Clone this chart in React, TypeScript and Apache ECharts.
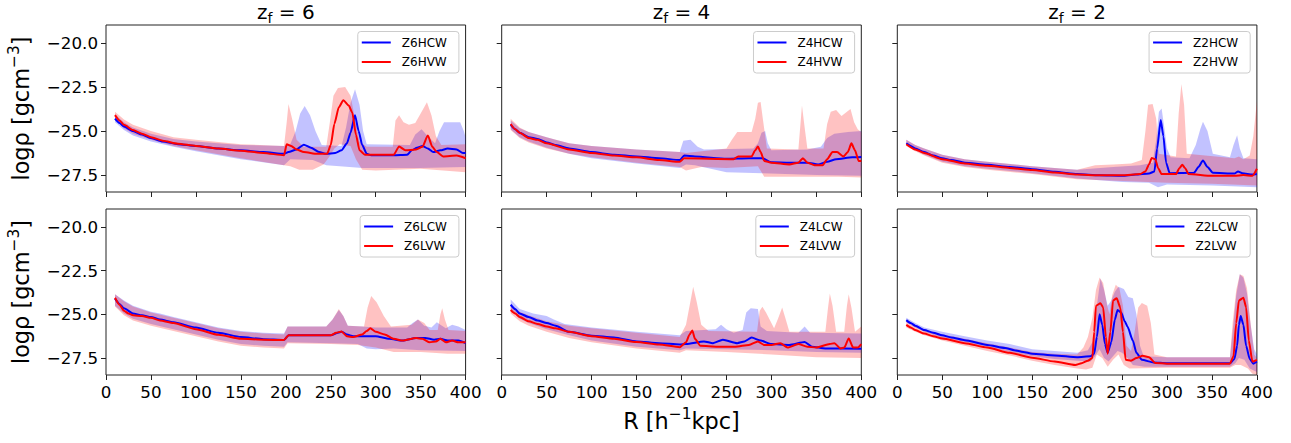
import React, { useEffect, useRef } from 'react';
import * as echarts from 'echarts';

// ---------------- data ----------------
const R_TICKS = [0, 50, 100, 150, 200, 250, 300, 350, 400];
const Y_TICKS = [-27.5, -25, -22.5, -20];
const Z_VALUES = ['6', '4', '2'];

// z_f = 6, H
const z6hcwMean = [[10,-24.3],[15,-24.55],[20,-24.75],[30,-25.0],[40,-25.2],[50,-25.4],[63,-25.6],[80,-25.75],[100,-25.85],[125,-26.0],[150,-26.1],[175,-26.2],[198,-26.3],[203,-26.2],[212,-26.05],[220,-25.78],[228,-25.95],[237,-26.2],[245,-26.3],[255,-26.25],[262,-26.1],[268,-25.7],[272,-25.1],[277,-24.1],[281,-25.0],[285,-25.8],[290,-26.3],[295,-26.38],[320,-26.38],[335,-26.35],[340,-26.1],[346,-25.95],[352,-25.85],[358,-26.0],[364,-26.2],[372,-26.1],[380,-26.0],[390,-26.05],[397,-26.25],[400,-26.25]];
const z6hcwUpper = [[10,-24.05],[20,-24.5],[30,-24.8],[50,-25.15],[75,-25.45],[100,-25.6],[150,-25.8],[198,-25.85],[205,-25.75],[211,-25.0],[216,-24.0],[221,-23.58],[227,-24.1],[233,-25.0],[240,-25.8],[262,-25.85],[267,-24.8],[272,-23.4],[277,-22.63],[282,-23.5],[286,-25.0],[290,-25.75],[338,-25.8],[344,-25.2],[351,-24.9],[358,-25.3],[366,-25.7],[371,-25.0],[376,-24.5],[394,-24.5],[398,-25.0],[400,-25.35]];
const z6hcwLower = [[10,-24.5],[20,-24.95],[30,-25.25],[50,-25.6],[75,-25.9],[100,-26.15],[150,-26.6],[198,-26.95],[205,-26.6],[230,-26.65],[245,-26.95],[260,-27.0],[285,-27.1],[300,-27.1],[350,-27.1],[400,-27.05]];
const z6hvwMean = [[10,-24.1],[15,-24.4],[20,-24.65],[30,-24.95],[40,-25.15],[50,-25.35],[63,-25.55],[80,-25.72],[100,-25.85],[125,-26.0],[150,-26.12],[175,-26.25],[198,-26.38],[201,-25.75],[206,-25.85],[212,-26.05],[220,-26.2],[235,-26.3],[246,-26.3],[250,-25.8],[254,-24.6],[259,-23.65],[264,-23.25],[270,-23.55],[274,-23.95],[278,-25.2],[282,-26.1],[288,-26.35],[320,-26.35],[326,-25.88],[333,-26.1],[345,-26.05],[352,-25.9],[358,-25.25],[363,-25.9],[368,-26.2],[375,-26.45],[390,-26.4],[400,-26.55]];
const z6hvwUpper = [[10,-23.9],[20,-24.35],[30,-24.65],[50,-25.0],[75,-25.35],[100,-25.5],[150,-25.75],[198,-25.85],[201,-24.5],[203,-23.47],[207,-24.3],[212,-25.5],[220,-25.9],[245,-25.9],[249,-24.5],[253,-23.0],[258,-22.55],[266,-22.5],[272,-23.0],[277,-24.3],[282,-25.6],[290,-25.9],[319,-25.9],[322,-24.4],[326,-24.1],[331,-24.5],[337,-24.65],[344,-24.55],[350,-24.0],[357,-23.37],[362,-24.1],[367,-25.3],[373,-25.8],[400,-25.75]];
const z6hvwLower = [[10,-24.35],[20,-24.85],[30,-25.15],[50,-25.5],[75,-25.85],[100,-26.1],[150,-26.55],[198,-26.95],[205,-27.0],[215,-27.2],[230,-27.2],[242,-26.9],[248,-26.5],[254,-26.0],[260,-25.75],[272,-25.85],[278,-26.6],[285,-27.2],[300,-27.25],[350,-27.15],[375,-27.25],[400,-27.35]];

// z_f = 6, L
const z6lcwMean = [[10,-24.1],[15,-24.4],[20,-24.65],[30,-24.95],[40,-25.05],[50,-25.15],[60,-25.3],[75,-25.45],[100,-25.75],[125,-26.05],[150,-26.3],[175,-26.42],[198,-26.47],[203,-26.2],[250,-26.2],[258,-26.05],[262,-26.0],[268,-26.15],[275,-26.25],[300,-26.25],[315,-26.4],[330,-26.5],[345,-26.35],[355,-26.35],[365,-26.45],[372,-26.4],[380,-26.5],[392,-26.5],[400,-26.65]];
const z6lcwUpper = [[10,-23.85],[20,-24.2],[30,-24.5],[50,-24.85],[60,-24.95],[75,-25.15],[100,-25.45],[125,-25.75],[150,-25.95],[175,-26.05],[198,-26.1],[202,-25.7],[245,-25.7],[252,-25.3],[259,-24.75],[264,-25.1],[269,-25.65],[285,-25.7],[300,-25.75],[335,-25.75],[341,-25.5],[347,-25.3],[354,-25.65],[362,-25.75],[368,-25.45],[372,-25.6],[378,-25.8],[385,-25.6],[392,-25.7],[400,-25.9]];
const z6lcwLower = [[10,-24.5],[20,-24.95],[30,-25.25],[50,-25.55],[75,-25.85],[100,-26.15],[125,-26.45],[150,-26.7],[175,-26.8],[198,-26.85],[202,-26.6],[250,-26.65],[280,-26.7],[290,-26.95],[300,-27.0],[320,-26.95],[350,-27.05],[400,-27.1]];
const z6lvwMean = [[10,-24.05],[15,-24.45],[20,-24.8],[25,-24.95],[30,-25.05],[40,-25.1],[50,-25.2],[60,-25.35],[75,-25.5],[100,-25.85],[125,-26.17],[150,-26.4],[175,-26.45],[198,-26.47],[203,-26.2],[250,-26.2],[256,-26.05],[262,-25.98],[268,-26.25],[275,-26.3],[285,-26.15],[290,-25.95],[294,-25.8],[300,-26.0],[310,-26.15],[320,-26.4],[330,-26.5],[345,-26.35],[352,-26.4],[360,-26.6],[367,-26.55],[372,-26.4],[378,-26.6],[385,-26.5],[392,-26.6],[400,-26.6]];
const z6lvwUpper = [[10,-23.85],[20,-24.25],[30,-24.55],[50,-24.9],[75,-25.2],[100,-25.5],[125,-25.8],[150,-26.0],[175,-26.1],[198,-26.15],[202,-25.7],[245,-25.7],[252,-25.3],[259,-24.7],[264,-25.1],[269,-25.65],[287,-25.7],[291,-24.6],[295,-23.95],[301,-24.3],[309,-25.1],[317,-25.7],[340,-25.6],[347,-25.3],[354,-25.5],[360,-25.9],[369,-25.9],[372,-25.0],[374,-24.65],[377,-25.3],[381,-25.9],[400,-25.95]];
const z6lvwLower = [[10,-24.55],[20,-25.05],[30,-25.35],[50,-25.65],[75,-25.95],[100,-26.25],[125,-26.55],[150,-26.8],[175,-26.9],[198,-26.95],[202,-26.65],[250,-26.7],[280,-26.75],[300,-26.9],[320,-27.15],[350,-27.15],[380,-27.25],[400,-27.25]];

// z_f = 4, H
const z4hcwMean = [[10,-24.65],[15,-24.9],[20,-25.1],[30,-25.35],[40,-25.45],[50,-25.65],[60,-25.8],[75,-26.0],[100,-26.2],[125,-26.35],[150,-26.45],[175,-26.55],[198,-26.65],[203,-26.4],[215,-26.45],[250,-26.58],[275,-26.55],[290,-26.55],[300,-26.78],[320,-26.8],[340,-26.8],[352,-26.9],[362,-26.75],[372,-26.6],[390,-26.5],[400,-26.48]];
const z4hcwUpper = [[10,-24.4],[20,-24.85],[30,-25.05],[50,-25.35],[60,-25.5],[75,-25.7],[100,-25.85],[150,-26.05],[198,-26.2],[202,-25.55],[210,-25.5],[218,-25.9],[225,-26.05],[280,-26.0],[285,-25.7],[289,-25.1],[293,-25.0],[296,-25.7],[300,-26.1],[340,-26.05],[355,-25.9],[362,-25.4],[370,-25.15],[385,-25.05],[400,-25.0]];
const z4hcwLower = [[10,-24.9],[20,-25.35],[30,-25.6],[50,-25.95],[75,-26.3],[100,-26.55],[150,-26.85],[198,-27.1],[205,-26.9],[215,-26.95],[250,-27.35],[290,-27.4],[350,-27.5],[400,-27.55]];
const z4hvwMean = [[10,-24.6],[15,-24.9],[20,-25.1],[30,-25.4],[40,-25.5],[50,-25.7],[75,-26.05],[100,-26.25],[125,-26.4],[150,-26.5],[175,-26.65],[198,-26.75],[203,-26.55],[258,-26.6],[263,-26.45],[278,-26.45],[282,-26.1],[285,-25.88],[288,-26.2],[292,-26.7],[300,-26.8],[320,-26.9],[330,-26.8],[335,-26.55],[340,-26.8],[348,-26.95],[357,-26.95],[362,-26.6],[368,-26.2],[373,-26.2],[380,-26.45],[385,-26.2],[389,-25.7],[393,-26.1],[397,-26.7],[400,-26.7]];
const z4hvwUpper = [[10,-24.3],[20,-24.8],[30,-25.05],[50,-25.35],[75,-25.7],[100,-25.85],[150,-26.05],[198,-26.2],[205,-26.25],[250,-26.0],[256,-25.5],[262,-25.05],[278,-25.05],[282,-24.3],[285,-23.4],[288,-23.35],[291,-24.5],[295,-26.0],[330,-26.05],[332,-24.8],[334,-23.55],[337,-24.8],[340,-26.0],[358,-26.0],[362,-24.6],[366,-23.9],[372,-23.8],[378,-24.15],[384,-23.9],[388,-23.75],[392,-24.5],[396,-24.9],[400,-25.05]];
const z4hvwLower = [[10,-24.95],[20,-25.4],[30,-25.65],[50,-26.0],[75,-26.3],[100,-26.5],[150,-26.8],[198,-27.05],[205,-27.25],[222,-27.05],[250,-27.1],[285,-27.0],[292,-27.6],[350,-27.6],[375,-27.6],[400,-27.65]];

// z_f = 4, L
const z4lcwMean = [[10,-24.45],[15,-24.7],[20,-24.95],[30,-25.15],[40,-25.35],[50,-25.5],[60,-25.65],[75,-26.0],[100,-26.22],[125,-26.32],[150,-26.55],[175,-26.65],[198,-26.72],[205,-26.7],[225,-26.55],[235,-26.65],[246,-26.45],[262,-26.65],[270,-26.55],[278,-26.33],[288,-26.5],[300,-26.7],[320,-26.75],[337,-26.58],[345,-26.85],[360,-26.95],[400,-26.97]];
const z4lcwUpper = [[10,-24.15],[20,-24.7],[35,-24.95],[50,-25.1],[58,-25.3],[70,-25.55],[100,-25.75],[150,-26.0],[198,-26.2],[205,-25.95],[238,-25.85],[244,-25.6],[250,-25.85],[258,-26.05],[268,-25.9],[272,-24.9],[277,-24.65],[285,-24.7],[288,-25.7],[295,-25.95],[330,-26.05],[337,-25.7],[343,-26.05],[400,-26.1]];
const z4lcwLower = [[10,-24.75],[20,-25.25],[30,-25.5],[50,-25.85],[75,-26.2],[100,-26.5],[150,-26.85],[198,-27.05],[205,-26.95],[250,-27.0],[300,-27.05],[350,-27.15],[400,-27.2]];
const z4lvwMean = [[10,-24.75],[15,-24.95],[20,-25.15],[30,-25.4],[40,-25.55],[50,-25.7],[60,-25.8],[75,-26.0],[100,-26.25],[125,-26.4],[150,-26.58],[175,-26.72],[198,-26.88],[205,-26.6],[209,-26.15],[212,-25.92],[215,-26.4],[221,-26.8],[240,-26.85],[260,-26.85],[275,-26.75],[285,-26.55],[292,-26.75],[300,-26.75],[310,-26.65],[318,-26.9],[330,-26.7],[340,-26.85],[350,-26.9],[365,-26.7],[370,-26.65],[377,-26.95],[381,-26.9],[386,-26.38],[391,-26.9],[396,-26.9],[400,-26.7]];
const z4lvwUpper = [[10,-24.45],[20,-24.85],[30,-25.05],[50,-25.4],[75,-25.65],[100,-25.8],[150,-26.05],[198,-26.3],[205,-25.6],[209,-24.5],[213,-23.42],[217,-24.3],[222,-25.6],[230,-25.95],[284,-26.0],[287,-24.8],[290,-24.56],[294,-24.9],[298,-25.3],[303,-25.8],[307,-25.3],[312,-24.6],[316,-25.3],[320,-26.0],[360,-26.0],[363,-24.6],[365,-23.8],[368,-24.5],[372,-26.0],[381,-26.0],[384,-24.5],[386,-23.85],[389,-24.6],[393,-26.0],[400,-25.7]];
const z4lvwLower = [[10,-24.95],[20,-25.4],[30,-25.65],[50,-26.0],[75,-26.35],[100,-26.6],[150,-26.95],[198,-27.2],[205,-27.05],[250,-27.15],[300,-27.3],[350,-27.45],[400,-27.5]];

// z_f = 2, H
const z2hcwMean = [[10,-25.7],[15,-25.85],[20,-26.0],[30,-26.2],[40,-26.4],[50,-26.55],[60,-26.65],[75,-26.8],[100,-26.92],[125,-27.05],[150,-27.17],[175,-27.32],[200,-27.45],[225,-27.52],[250,-27.55],[265,-27.48],[280,-27.42],[286,-27.3],[289,-26.0],[293,-24.38],[296,-25.3],[299,-26.8],[303,-27.4],[330,-27.38],[335,-27.05],[340,-26.68],[345,-27.05],[351,-27.38],[375,-27.42],[379,-27.3],[384,-27.4],[395,-27.48],[400,-27.45]];
const z2hcwUpper = [[10,-25.5],[20,-25.8],[30,-26.0],[50,-26.35],[75,-26.6],[100,-26.75],[150,-27.0],[200,-27.2],[240,-27.05],[270,-26.95],[284,-26.8],[288,-25.5],[291,-23.9],[294,-23.72],[297,-24.8],[300,-26.0],[304,-26.5],[325,-26.55],[332,-25.8],[337,-24.9],[340,-24.48],[345,-25.0],[351,-26.3],[370,-26.5],[374,-25.8],[378,-25.24],[381,-26.0],[385,-26.55],[400,-26.6]];
const z2hcwLower = [[10,-25.8],[20,-26.1],[30,-26.35],[50,-26.75],[75,-27.0],[100,-27.15],[150,-27.4],[200,-27.7],[250,-27.9],[280,-27.95],[290,-28.2],[300,-28.05],[350,-28.1],[400,-28.2]];
const z2hvwMean = [[10,-25.75],[20,-26.05],[30,-26.25],[50,-26.6],[75,-26.85],[100,-26.98],[125,-27.1],[150,-27.22],[175,-27.36],[200,-27.48],[225,-27.52],[250,-27.52],[270,-27.45],[276,-27.3],[280,-26.9],[283,-26.54],[287,-26.6],[290,-27.1],[294,-27.45],[310,-27.45],[314,-27.1],[317,-26.92],[320,-27.1],[324,-27.45],[350,-27.55],[375,-27.55],[385,-27.5],[395,-27.55],[400,-27.15]];
const z2hvwUpper = [[10,-25.5],[20,-25.8],[30,-26.0],[50,-26.35],[75,-26.6],[100,-26.75],[150,-27.0],[200,-27.2],[220,-26.95],[240,-26.9],[260,-26.85],[272,-26.65],[276,-25.0],[279,-23.5],[284,-23.47],[288,-24.3],[291,-26.3],[310,-26.45],[313,-24.0],[316,-22.33],[319,-23.5],[322,-26.3],[375,-26.55],[380,-26.45],[385,-26.6],[392,-26.4],[396,-25.3],[400,-23.3]];
const z2hvwLower = [[10,-25.85],[20,-26.15],[30,-26.4],[50,-26.8],[75,-27.05],[100,-27.2],[150,-27.45],[200,-27.75],[250,-27.85],[300,-27.95],[350,-28.0],[400,-28.1]];

// z_f = 2, L
const z2lcwMean = [[10,-25.33],[15,-25.5],[20,-25.65],[30,-25.9],[40,-26.05],[50,-26.2],[60,-26.32],[75,-26.48],[100,-26.75],[120,-26.92],[130,-27.05],[140,-27.15],[150,-27.25],[175,-27.35],[200,-27.45],[215,-27.4],[219,-27.25],[222,-26.3],[225,-25.0],[228,-25.6],[231,-26.7],[234,-27.2],[238,-26.6],[242,-25.3],[245,-24.75],[249,-24.9],[253,-25.4],[256,-25.7],[262,-26.5],[266,-27.2],[272,-27.6],[285,-27.75],[300,-27.8],[370,-27.8],[375,-27.55],[378,-26.8],[380,-25.6],[382,-25.1],[385,-25.6],[388,-26.8],[392,-27.55],[396,-27.82],[400,-27.7]];
const z2lcwUpper = [[10,-25.2],[20,-25.5],[30,-25.75],[50,-26.0],[75,-26.25],[100,-26.5],[125,-26.7],[150,-27.0],[175,-27.1],[200,-27.2],[212,-27.05],[218,-26.5],[222,-24.5],[226,-22.95],[230,-23.6],[234,-24.5],[238,-24.2],[242,-23.7],[246,-23.42],[252,-23.55],[257,-24.0],[262,-24.08],[266,-25.0],[270,-26.8],[274,-27.4],[300,-27.45],[370,-27.45],[373,-26.0],[377,-23.9],[381,-22.7],[385,-22.9],[389,-23.8],[393,-25.6],[397,-27.0],[400,-27.3]];
const z2lcwLower = [[10,-25.45],[20,-25.75],[30,-26.0],[50,-26.35],[75,-26.6],[100,-26.9],[125,-27.15],[150,-27.4],[175,-27.55],[200,-27.65],[215,-27.7],[220,-27.4],[225,-27.0],[230,-27.5],[235,-27.7],[240,-27.4],[245,-27.1],[250,-27.2],[256,-27.5],[262,-27.9],[275,-28.0],[370,-28.0],[376,-27.8],[380,-27.5],[386,-27.6],[392,-28.1],[400,-28.3]];
const z2lvwMean = [[10,-25.6],[15,-25.75],[20,-25.9],[30,-26.1],[40,-26.25],[50,-26.38],[75,-26.65],[100,-26.9],[125,-27.2],[150,-27.48],[175,-27.7],[198,-27.9],[205,-27.8],[212,-27.65],[217,-27.5],[219,-26.0],[221,-24.5],[226,-24.37],[229,-24.6],[232,-26.3],[234,-27.25],[237,-26.0],[240,-24.2],[244,-24.08],[248,-24.6],[251,-26.0],[254,-27.6],[260,-27.65],[266,-27.5],[273,-27.37],[280,-27.45],[287,-27.78],[300,-27.82],[370,-27.82],[374,-27.4],[377,-25.5],[380,-24.2],[385,-24.05],[388,-24.6],[391,-26.5],[395,-27.7],[400,-27.6]];
const z2lvwUpper = [[10,-25.35],[20,-25.65],[30,-25.85],[50,-26.15],[75,-26.4],[100,-26.65],[125,-26.9],[150,-27.15],[175,-27.25],[200,-27.3],[207,-26.9],[212,-26.3],[217,-25.2],[221,-23.6],[225,-22.89],[229,-23.2],[233,-24.4],[236,-25.0],[239,-23.9],[243,-23.3],[247,-23.5],[251,-24.5],[255,-26.8],[260,-27.1],[264,-26.0],[268,-24.6],[272,-24.35],[278,-24.5],[282,-25.5],[286,-27.3],[300,-27.45],[370,-27.45],[373,-25.5],[377,-23.6],[381,-22.7],[385,-22.8],[389,-23.5],[393,-25.5],[397,-27.3],[400,-27.5]];
const z2lvwLower = [[10,-25.75],[20,-26.0],[30,-26.2],[50,-26.5],[75,-26.8],[100,-27.1],[125,-27.35],[150,-27.65],[175,-27.9],[200,-28.1],[210,-28.15],[217,-28.05],[222,-27.3],[228,-27.5],[234,-28.0],[240,-27.6],[246,-27.3],[252,-27.9],[258,-28.1],[300,-28.05],[370,-28.05],[376,-27.9],[382,-27.9],[390,-28.1],[395,-28.4],[400,-28.45]];

// ---------------- layout / styles ----------------
const W = 1291;
const H = 443;
const FONT = 'DejaVu Sans';
const COL_LEFT = [106, 501.7, 897.3];
const PANEL_W = 359.6;
const ROW_TOP = [25, 209];
const ROW_H = [167, 166];
const Y_MIN = -28.47;
const Y_MAX = -18.97;
const BLUE = '#0000ff';
const RED = '#ff0000';
const BLUE_FILL = 'rgba(0,0,255,0.24)';
const RED_FILL = 'rgba(255,0,0,0.24)';
const TICK_FONT = 16.7;
const LABEL_FONT = 22.4;

type Pt = number[];
interface Curve { name: string; mean: Pt[]; upper: Pt[]; lower: Pt[]; color: string; fill: string; }
interface Panel { row: number; col: number; curves: Curve[]; }

const PANELS: Panel[] = [
  { row: 0, col: 0, curves: [
    { name: 'Z6HCW', mean: z6hcwMean, upper: z6hcwUpper, lower: z6hcwLower, color: BLUE, fill: BLUE_FILL },
    { name: 'Z6HVW', mean: z6hvwMean, upper: z6hvwUpper, lower: z6hvwLower, color: RED, fill: RED_FILL } ] },
  { row: 0, col: 1, curves: [
    { name: 'Z4HCW', mean: z4hcwMean, upper: z4hcwUpper, lower: z4hcwLower, color: BLUE, fill: BLUE_FILL },
    { name: 'Z4HVW', mean: z4hvwMean, upper: z4hvwUpper, lower: z4hvwLower, color: RED, fill: RED_FILL } ] },
  { row: 0, col: 2, curves: [
    { name: 'Z2HCW', mean: z2hcwMean, upper: z2hcwUpper, lower: z2hcwLower, color: BLUE, fill: BLUE_FILL },
    { name: 'Z2HVW', mean: z2hvwMean, upper: z2hvwUpper, lower: z2hvwLower, color: RED, fill: RED_FILL } ] },
  { row: 1, col: 0, curves: [
    { name: 'Z6LCW', mean: z6lcwMean, upper: z6lcwUpper, lower: z6lcwLower, color: BLUE, fill: BLUE_FILL },
    { name: 'Z6LVW', mean: z6lvwMean, upper: z6lvwUpper, lower: z6lvwLower, color: RED, fill: RED_FILL } ] },
  { row: 1, col: 1, curves: [
    { name: 'Z4LCW', mean: z4lcwMean, upper: z4lcwUpper, lower: z4lcwLower, color: BLUE, fill: BLUE_FILL },
    { name: 'Z4LVW', mean: z4lvwMean, upper: z4lvwUpper, lower: z4lvwLower, color: RED, fill: RED_FILL } ] },
  { row: 1, col: 2, curves: [
    { name: 'Z2LCW', mean: z2lcwMean, upper: z2lcwUpper, lower: z2lcwLower, color: BLUE, fill: BLUE_FILL },
    { name: 'Z2LVW', mean: z2lvwMean, upper: z2lvwUpper, lower: z2lvwLower, color: RED, fill: RED_FILL } ] },
];

const fmtY = (v: number) => (v < 0 ? '\u2212' : '') + Math.abs(v).toFixed(1);

const labelRich = {
  m: { fontSize: LABEL_FONT, fontFamily: FONT, fill: '#000', lineHeight: 30 },
  p: { fontSize: 15.5, fontFamily: FONT, fill: '#000', lineHeight: 18, verticalAlign: 'top' },
};

function buildOption() {
  const grid: any[] = [];
  const xAxis: any[] = [];
  const yAxis: any[] = [];
  const series: any[] = [];
  const legend: any[] = [];
  const graphic: any[] = [];

  PANELS.forEach((p, i) => {
    const left = COL_LEFT[p.col];
    const top = ROW_TOP[p.row];
    const h = ROW_H[p.row];
    grid.push({ left, top, width: PANEL_W, height: h, show: true, borderColor: '#222', borderWidth: 1, backgroundColor: 'rgba(0,0,0,0)' });
    xAxis.push({
      type: 'value', gridIndex: i, min: R_TICKS[0], max: R_TICKS[R_TICKS.length - 1], interval: 50,
      axisLine: { show: false, onZero: false },
      axisTick: { show: true, length: 5, lineStyle: { color: '#222', width: 1 } },
      axisLabel: { show: p.row === 1, fontSize: TICK_FONT, fontFamily: FONT, color: '#000', margin: 8 },
      splitLine: { show: false },
    });
    yAxis.push({
      type: 'value', gridIndex: i, min: Y_MIN, max: Y_MAX,
      axisLine: { show: false, onZero: false },
      axisTick: { show: true, length: 5, customValues: Y_TICKS, lineStyle: { color: '#222', width: 1 } },
      axisLabel: { show: p.col === 0, customValues: Y_TICKS, formatter: fmtY, fontSize: TICK_FONT, fontFamily: FONT, color: '#000', margin: 8 },
      splitLine: { show: false },
    });
    p.curves.forEach((c) => {
      series.push({
        type: 'custom', name: c.name + ' band', xAxisIndex: i, yAxisIndex: i, z: 2, silent: true, clip: true,
        data: [c.upper[0]],
        renderItem: (_params: any, api: any) => {
          const pts = c.upper.map((q) => api.coord(q)).concat(c.lower.slice().reverse().map((q) => api.coord(q)));
          return { type: 'polygon', shape: { points: pts }, style: { fill: c.fill, stroke: 'none' } };
        },
      });
    });
    p.curves.forEach((c) => {
      series.push({
        type: 'line', name: c.name, xAxisIndex: i, yAxisIndex: i, z: 3, data: c.mean,
        symbol: 'none', showSymbol: false, smooth: 0.2, smoothMonotone: 'x',
        lineStyle: { color: c.color, width: 2 }, itemStyle: { color: c.color },
      });
    });
    legend.push({
      data: p.curves.map((c) => c.name), orient: 'vertical',
      right: W - (left + PANEL_W - 6.7), top: top + 6.5,
      icon: 'rect', itemWidth: 29, itemHeight: 2, itemGap: 5.5,
      padding: [4, 12, 4, 4], borderColor: '#cccccc', borderWidth: 1, borderRadius: 3,
      backgroundColor: 'rgba(255,255,255,0.8)',
      textStyle: { fontSize: 12, fontFamily: FONT, color: '#000', lineHeight: 14, padding: [0, 0, 0, 6] },
      selectedMode: false,
    });
    if (p.row === 0) {
      graphic.push({
        type: 'text', x: left + PANEL_W / 2, y: 12,
        style: {
          text: '{m|z}{s|f}{m| = ' + Z_VALUES[p.col] + '}',
          align: 'center', verticalAlign: 'middle', textAlign: 'center', textVerticalAlign: 'middle',
          rich: {
            m: { fontSize: 20, fontFamily: FONT, fill: '#000', lineHeight: 26 },
            s: { fontSize: 14, fontFamily: FONT, fill: '#000', lineHeight: 18, verticalAlign: 'bottom' },
          },
        },
      });
    }
    if (p.col === 0) {
      graphic.push({
        type: 'text', x: 21, y: top + h / 2, rotation: Math.PI / 2,
        style: {
          text: '{m|log\u03c1 [gcm}{p|\u22123}{m|]}', rich: labelRich,
          align: 'center', verticalAlign: 'middle', textAlign: 'center', textVerticalAlign: 'middle',
        },
      });
    }
  });

  graphic.push({
    type: 'text', x: 681.5, y: 421,
    style: {
      text: '{m|R [h}{p|\u22121}{m|kpc]}', rich: labelRich,
      align: 'center', verticalAlign: 'middle', textAlign: 'center', textVerticalAlign: 'middle',
    },
  });

  return { animation: false, backgroundColor: '#fff', grid, xAxis, yAxis, series, legend, graphic };
}

export default function App() {
  const ref = useRef<HTMLDivElement>(null);
  useEffect(() => {
    document.body.style.margin = '0';
    if (!ref.current) return;
    const chart = echarts.init(ref.current, undefined, { renderer: 'svg' });
    chart.setOption(buildOption() as any);
    return () => chart.dispose();
  }, []);
  return <div ref={ref} style={{ width: W, height: H }} />;
}
